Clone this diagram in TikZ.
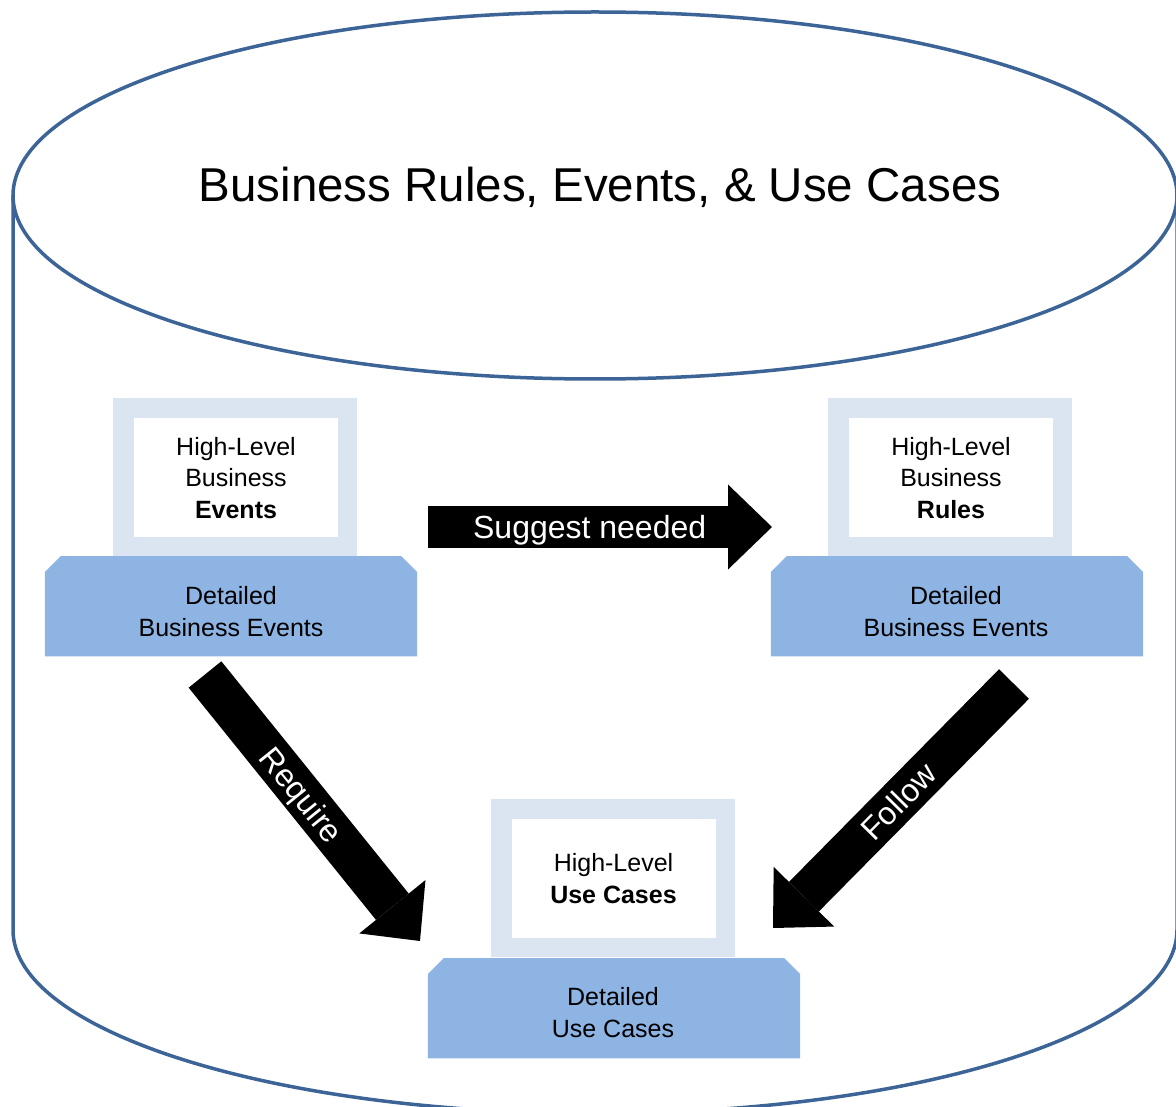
\documentclass[tikz,border=0pt]{standalone}
\usepackage{fontspec}
\setmainfont{Liberation Sans}
\usetikzlibrary{calc,arrows.meta}

\definecolor{rim}{HTML}{3C6496}
\definecolor{paleblue}{HTML}{DBE5F1}
\definecolor{midblue}{HTML}{8EB4E3}

\tikzset{
  frame/.style={fill=paleblue, draw=none, inner sep=0pt,
    minimum width=244pt, minimum height=158pt, anchor=north},
  card/.style={fill=white, inner sep=0pt, minimum width=204pt,
    minimum height=119pt, anchor=north, align=center,
    font=\fontsize{25}{31.5}\selectfont},
  basebox/.style={rectangle, draw=none, inner sep=0pt,
    minimum width=372pt, minimum height=100pt, anchor=north},
  baselabel/.style={align=center, inner sep=0pt,
    font=\fontsize{25}{31.5}\selectfont},
  bigarrow/.style={line width=42pt, black,
    -{Triangle[length=44pt,width=85pt,line width=0pt]}},
  arrowlabel/.style={text=white, sloped, inner sep=0pt,
    text height=23pt, text depth=0pt,
    font=\fontsize{32}{38}\selectfont},
}

% fill a base node with its two upper corners cut off
\newcommand\cutcornerfill[1]{%
  \fill[midblue] (#1.south west) -- ($(#1.north west)+(0,16)$)
    -- ($(#1.north west)+(16,0)$) -- ($(#1.north east)+(-16,0)$)
    -- ($(#1.north east)+(0,16)$) -- (#1.south east) -- cycle;}

\begin{document}
\begin{tikzpicture}[x=1pt,y=-1pt]
  \useasboundingbox (0,0) rectangle (1176,1107);
  \clip (0,0) rectangle (1176,1107);

  % cylinder outline
  \draw[rim, line width=3.5pt] (595,195.5) ellipse [x radius=582, y radius=183.5];
  \draw[rim, line width=3.5pt] (13,195.5) -- (13,930)
    arc [start angle=180, end angle=0, x radius=582, y radius=183.5]
    -- (1177,195.5);

  \node[font=\fontsize{47.5}{57}\selectfont, inner sep=0pt, anchor=base]
    (title) at (600,202) {Business Rules, Events, \& Use Cases};

  % events stack
  \node[frame] (evFrame) at (235,398) {};
  \node[card] (evCard) at (236,418) {High-Level\\Business\\\textbf{Events}};
  \node[basebox] (evBase) at (231,556) {};
  \cutcornerfill{evBase}
  \node[baselabel] (evBaseText) at (231,611.5) {Detailed\\Business Events};

  % rules stack
  \node[frame] (ruFrame) at (950,398) {};
  \node[card] (ruCard) at (951,418) {High-Level\\Business\\\textbf{Rules}};
  \node[basebox] (ruBase) at (957,556) {};
  \cutcornerfill{ruBase}
  \node[baselabel] (ruBaseText) at (956,611.5) {Detailed\\Business Events};

  % use case stack
  \node[frame] (ucFrame) at (613,799) {};
  \node[card] (ucCard) at (613.5,819) {High-Level\\\textbf{Use Cases}};
  \node[basebox] (ucBase) at (614,958) {};
  \cutcornerfill{ucBase}
  \node[baselabel] (ucBaseText) at (613,1012.5) {Detailed\\Use Cases};

  % block arrows
  \coordinate (sgTail) at (428,527);
  \coordinate (sgTip) at (772,527);
  \coordinate (rqTail) at (205,674.5);
  \coordinate (rqTip) at (420,941);
  \coordinate (fwTail) at (1014,684);
  \coordinate (fwTip) at (773,928);

  \draw[bigarrow] (sgTail) -- node[arrowlabel, pos=0.47] (sgText) {Suggest needed} (sgTip);
  \draw[bigarrow] (rqTail) -- node[arrowlabel, pos=0.45] (rqText) {Require} (rqTip);
  \draw[bigarrow] (fwTail) -- node[arrowlabel, pos=0.48] (fwText) {Follow} (fwTip);
\end{tikzpicture}
\end{document}
